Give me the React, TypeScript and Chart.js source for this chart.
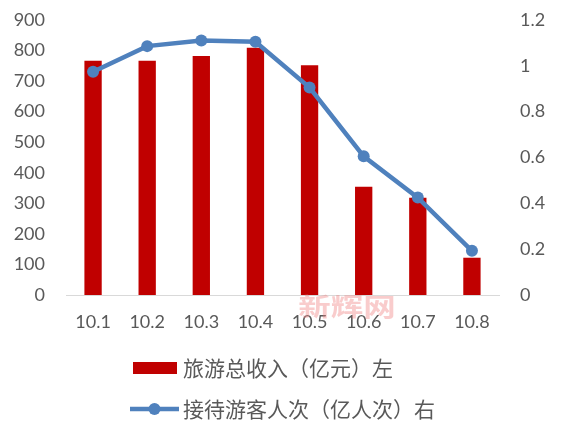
import { useEffect, useRef } from 'react';
import { Chart, registerables } from 'chart.js';

Chart.register(...registerables);

const days = ['10.1', '10.2', '10.3', '10.4', '10.5', '10.6', '10.7', '10.8'];
const revenue = [767, 767, 782, 809, 752, 354, 318, 122];
const visitors = [0.974, 1.086, 1.111, 1.105, 0.905, 0.605, 0.425, 0.193];

const revenueLabel = '旅游总收入（亿元）左';
const visitorsLabel = '接待游客人次（亿人次）右';
const watermark = '新辉网';

const RED = '#C00000';
const BLUE = '#4F81BD';
const TEXT = '#595959';
const tickFont = { family: 'Lato, "Liberation Sans", sans-serif', size: 18 };

// legend below the plot + faint watermark, drawn by hand so the rows line up on the left
const legendPlugin = {
  id: 'stackedLegend',
  afterDraw(chart: Chart) {
    const { ctx, chartArea } = chart;
    const x0 = chartArea.left + 67;
    const textX = x0 + 50;
    ctx.save();

    ctx.font = 'bold 25px "Noto Sans CJK SC", sans-serif';
    ctx.fillStyle = 'rgba(240, 120, 120, 0.38)';
    ctx.textAlign = 'center';
    ctx.textBaseline = 'middle';
    ctx.save();
    ctx.translate(chartArea.left + 281, chartArea.bottom + 11);
    ctx.scale(1.3, 1);
    ctx.fillText(watermark, 0, 0);
    ctx.restore();

    ctx.font = '21px "Noto Sans CJK SC", sans-serif';
    ctx.textAlign = 'left';
    ctx.fillStyle = TEXT;

    const y1 = chartArea.bottom + 73;
    ctx.fillStyle = RED;
    ctx.fillRect(x0, y1 - 6, 44, 12);
    ctx.fillStyle = TEXT;
    ctx.fillText(revenueLabel, textX, y1);

    const y2 = chartArea.bottom + 114;
    ctx.strokeStyle = BLUE;
    ctx.lineWidth = 4.5;
    ctx.beginPath();
    ctx.moveTo(x0 - 3, y2);
    ctx.lineTo(x0 + 46, y2);
    ctx.stroke();
    ctx.fillStyle = BLUE;
    ctx.beginPath();
    ctx.arc(x0 + 21.5, y2, 6, 0, Math.PI * 2);
    ctx.fill();
    ctx.fillStyle = TEXT;
    ctx.fillText(visitorsLabel, textX, y2);

    ctx.restore();
  },
};

export default function App() {
  const chartRef = useRef<HTMLCanvasElement>(null);
  const chartInstance = useRef<Chart | null>(null);

  useEffect(() => {
    if (!chartRef.current) return;
    if (chartInstance.current) chartInstance.current.destroy();

    const ctx = chartRef.current.getContext('2d');
    if (!ctx) return;

    chartInstance.current = new Chart(ctx, {
      type: 'bar',
      data: {
        labels: days,
        datasets: [
          {
            type: 'line',
            label: visitorsLabel,
            data: visitors,
            yAxisID: 'y1',
            borderColor: BLUE,
            backgroundColor: BLUE,
            borderWidth: 4.5,
            pointRadius: 6,
            pointBackgroundColor: BLUE,
            pointBorderWidth: 0,
            tension: 0,
            order: 0,
          },
          {
            type: 'bar',
            label: revenueLabel,
            data: revenue,
            yAxisID: 'y',
            backgroundColor: RED,
            barPercentage: 0.32,
            categoryPercentage: 1,
            order: 1,
          },
        ],
      },
      options: {
        responsive: true,
        maintainAspectRatio: false,
        animation: false,
        layout: { padding: { top: 20, bottom: 89, left: 0, right: 0 } },
        plugins: {
          legend: { display: false },
          tooltip: { enabled: false },
        },
        scales: {
          x: {
            grid: { display: false, drawTicks: false },
            border: { display: true, color: '#D9D9D9', width: 1 },
            ticks: { color: TEXT, font: tickFont, padding: 16, maxRotation: 0 },
            afterFit: (scale) => { scale.height = 38; },
          },
          y: {
            position: 'left',
            min: 0,
            max: 900,
            grid: { display: false, drawTicks: false },
            border: { display: false },
            ticks: { stepSize: 100, color: TEXT, font: tickFont, padding: 21 },
            afterFit: (scale) => {
              scale.width = 66;
              scale.paddingTop = 0;
              scale.paddingBottom = 0;
            },
          },
          y1: {
            position: 'right',
            min: 0,
            max: 1.2,
            grid: { display: false, drawTicks: false },
            border: { display: false },
            ticks: {
              stepSize: 0.2,
              color: TEXT,
              font: tickFont,
              padding: 21,
              callback: (v) => String(Math.round(Number(v) * 10) / 10),
            },
            afterFit: (scale) => {
              scale.width = 70;
              scale.paddingTop = 0;
              scale.paddingBottom = 0;
            },
          },
        },
      },
      plugins: [legendPlugin],
    });

    return () => {
      if (chartInstance.current) {
        chartInstance.current.destroy();
        chartInstance.current = null;
      }
    };
  }, []);

  return (
    <div style={{ position: 'fixed', left: 0, top: 0, width: 569, height: 422, background: '#fff' }}>
      <canvas ref={chartRef} />
    </div>
  );
}
